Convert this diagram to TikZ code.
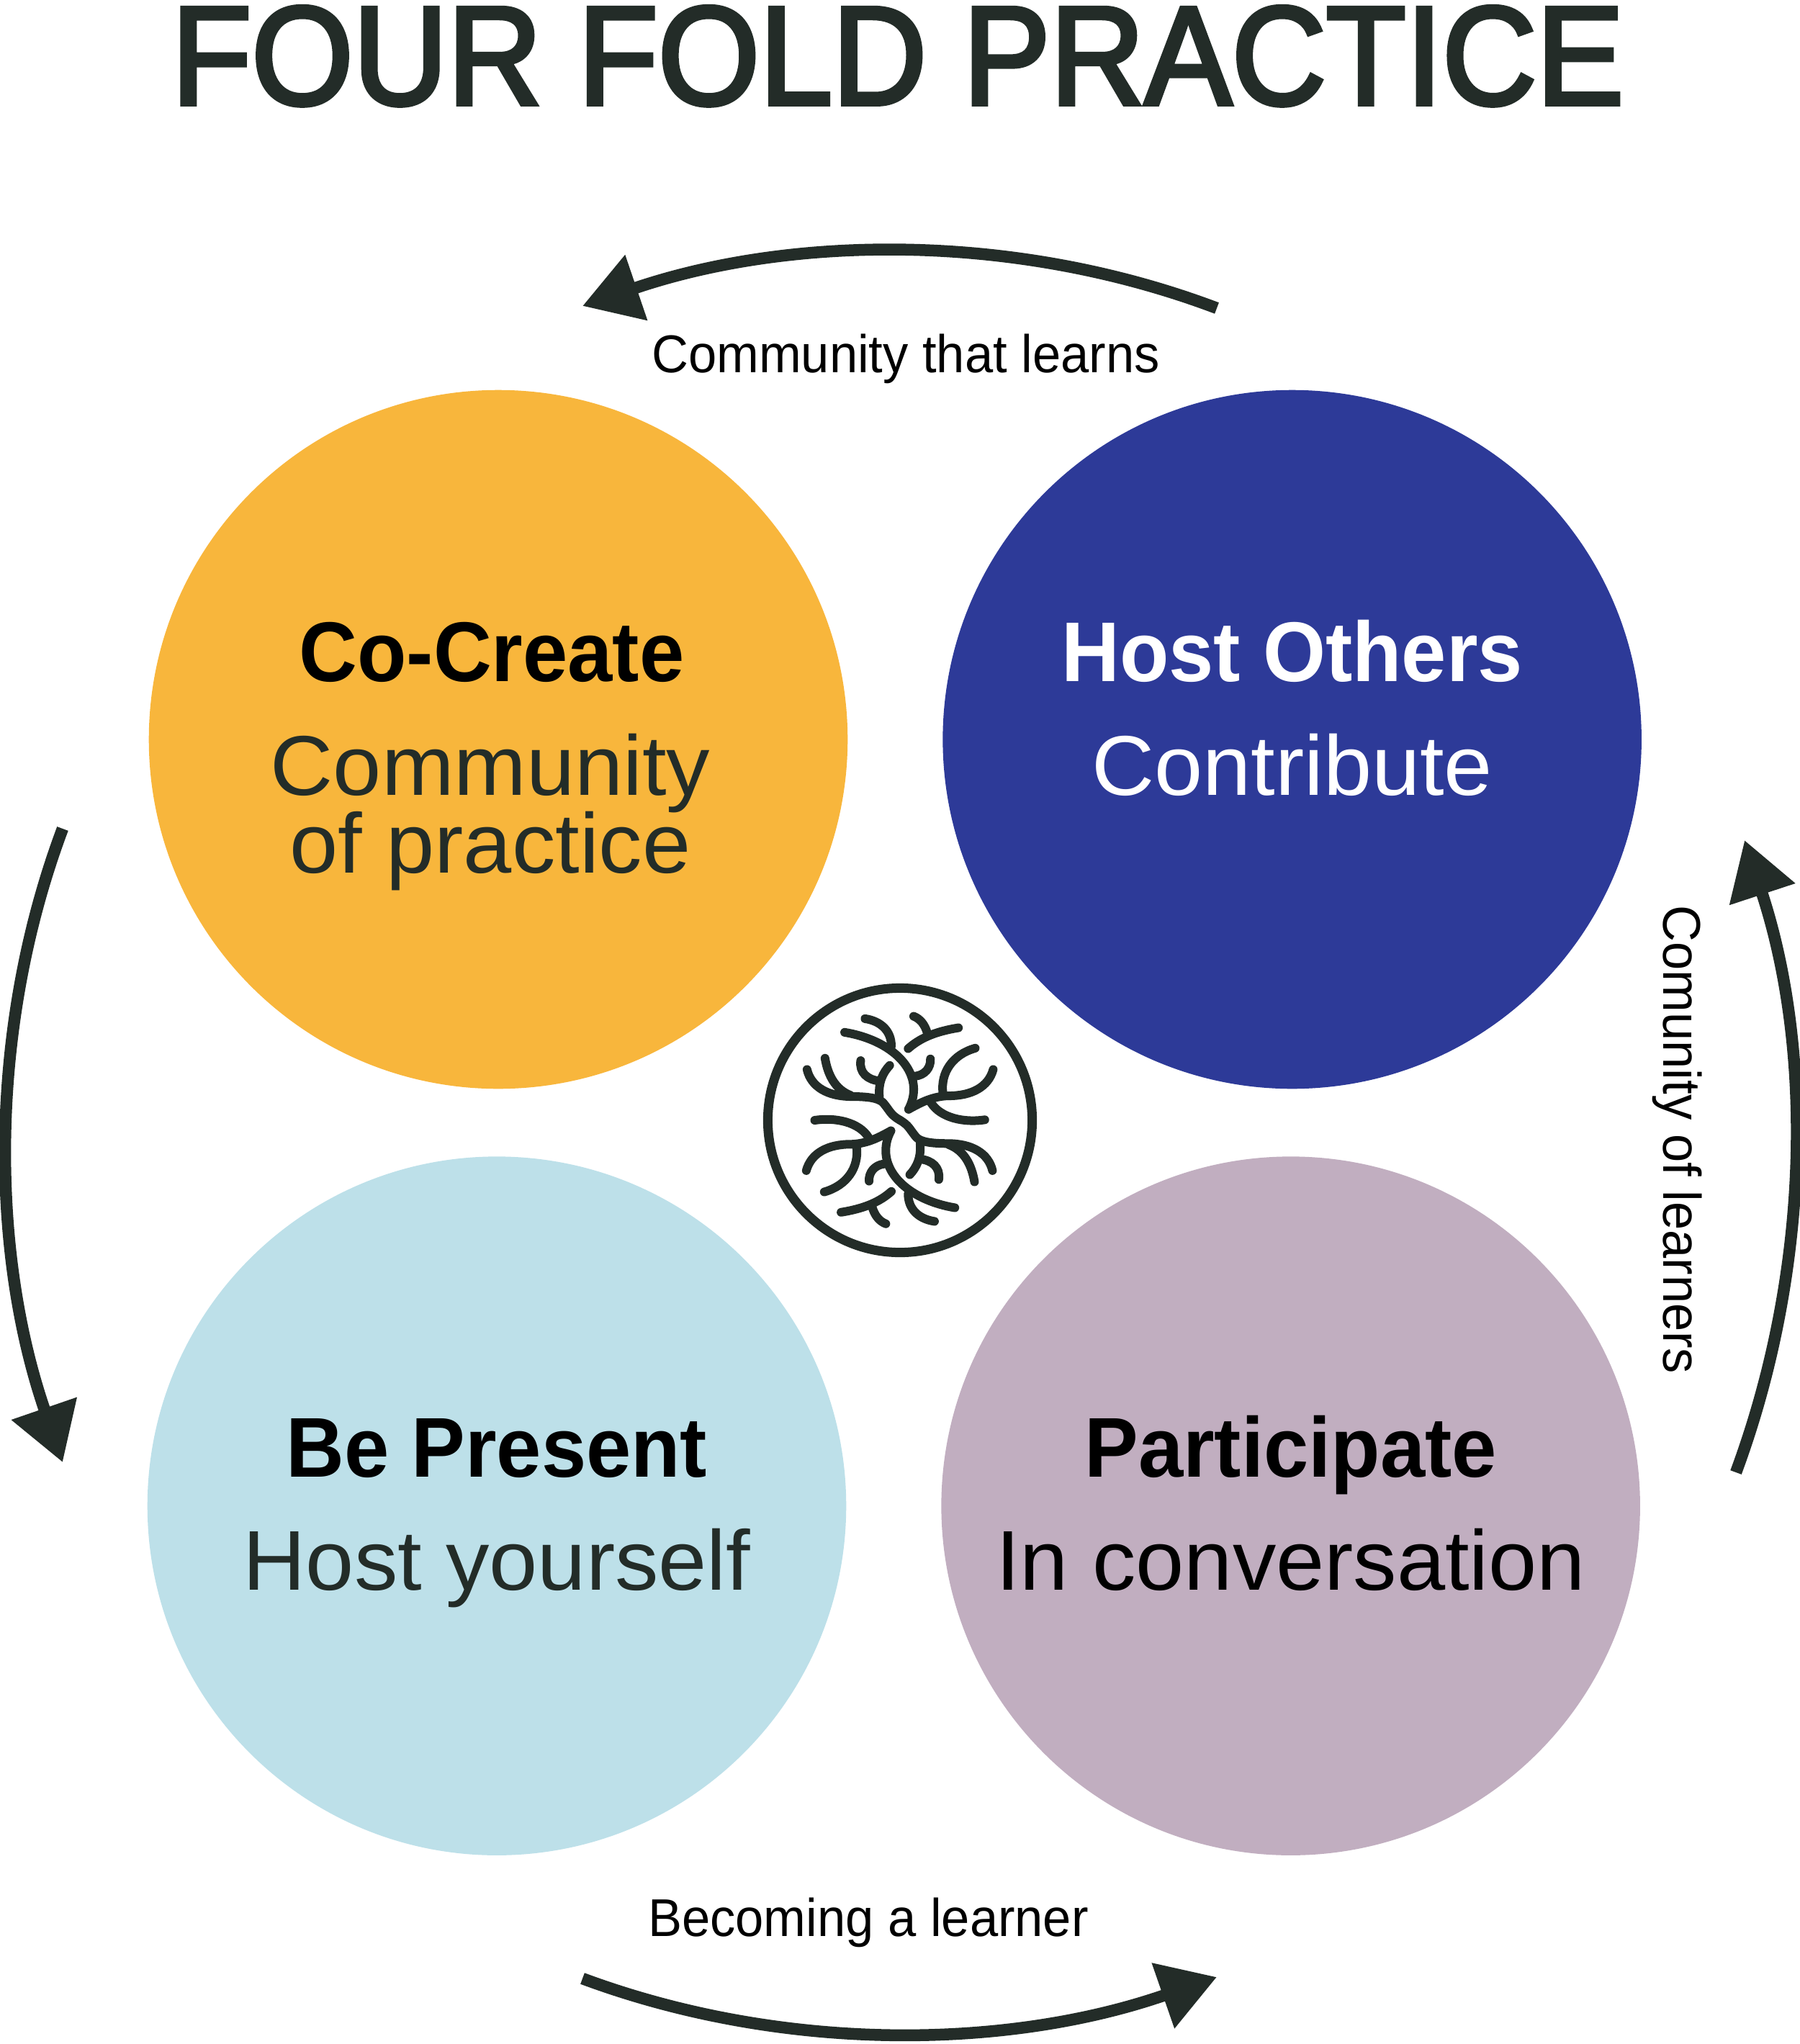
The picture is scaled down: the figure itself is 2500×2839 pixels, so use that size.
\documentclass[tikz,border=0pt]{standalone}
\usepackage{fontspec}
\setmainfont{Liberation Sans}
\newfontfamily\titlefont[FakeStretch=0.93,FakeBold=3]{Liberation Sans}
\newfontfamily\headfont[FakeStretch=0.95]{Liberation Sans}
\newfontfamily\subfont[FakeStretch=1.025]{Liberation Sans}
\newfontfamily\flowfont[FakeStretch=0.955]{Liberation Sans}
\usetikzlibrary{arrows.meta,positioning}
\definecolor{inkdark}{RGB}{35,44,40}
\definecolor{sunny}{RGB}{248,182,60}
\definecolor{deepblue}{RGB}{45,58,152}
\definecolor{paleblue}{RGB}{189,224,233}
\definecolor{mauve}{RGB}{193,174,192}

\begin{document}
\begin{tikzpicture}[
      x=0.01cm, y=-0.01cm,
      petal/.style={circle, minimum size=9.7cm, inner sep=0pt, outer sep=0pt},
      headtext/.style={anchor=base, inner sep=0pt, font=\fontsize{33.5}{40}\headfont\bfseries},
      subtext/.style={anchor=base, inner sep=0pt, text=inkdark,
                      font=\fontsize{33.5}{40}\subfont},
      flowtext/.style={inner sep=0pt, font=\fontsize{21}{25}\flowfont},
      flow/.style={draw=inkdark, line width=0.165cm,
                   -{Triangle[length=0.79cm, width=0.92cm, fill=inkdark]}},
      twig/.style={draw=inkdark, line width=0.12cm, line cap=round, line join=round},
      ring/.style={relative, out=-20.5, in=-161, out distance=3cm, in distance=3.05cm},
    ]
    \useasboundingbox (0,0) rectangle (2500,2839);

    % title
    \node[anchor=base, inner sep=0pt, text=inkdark, font=\fontsize{55.5}{60}\titlefont] (title)
      at (1247,145) {FOUR FOLD PRACTICE};

    % four circles
    \node[petal, fill=sunny] (cocreate) at (692,1027) {};
    \node[petal, fill=deepblue, right=1.32cm of cocreate] (host) {};
    \node[petal, fill=paleblue, below=0.94cm of cocreate, xshift=-0.02cm] (present) {};
    \node[petal, fill=mauve, right=1.32cm of present] (participate) {};

    % circle labels
    \node[headtext] (cocreatehead) at ([xshift=-0.09cm, yshift=0.80cm]cocreate.center) {Co-Create};
    \node[subtext] (cocreatesub) at ([xshift=-0.11cm, yshift=-0.77cm]cocreate.center) {Community};
    \node[subtext] (cocreatesubb) at ([xshift=-0.11cm, yshift=-1.85cm]cocreate.center) {of practice};
    \node[headtext, text=white] (hosthead) at ([yshift=0.80cm]host.center) {Host Others};
    \node[subtext, text=white] (hostsub) at ([yshift=-0.77cm]host.center) {Contribute};
    \node[headtext] (presenthead) at ([yshift=0.40cm]present.center) {Be Present};
    \node[subtext] (presentsub) at ([yshift=-1.17cm]present.center) {Host yourself};
    \node[headtext] (participatehead) at ([yshift=0.40cm]participate.center) {Participate};
    \node[subtext, text=black] (participatesub) at ([yshift=-1.17cm]participate.center) {In conversation};

    % arrow ends on the outer ring
    \coordinate (toptail) at (1690,428);
    \coordinate (toptip) at (809,425);
    \coordinate (lefttail) at (87,1151);
    \coordinate (lefttip) at (87,2031);
    \coordinate (bottomtail) at (809,2748);
    \coordinate (bottomtip) at (1690,2746);
    \coordinate (righttail) at (2411,2045);
    \coordinate (righttip) at (2423,1167);

    % arrows
    \draw[flow] (toptail) to[ring] (toptip);
    \draw[flow] (lefttail) to[ring] (lefttip);
    \draw[flow] (bottomtail) to[ring] (bottomtip);
    \draw[flow] (righttail) to[ring, out=-19.5] (righttip);

    % arrow labels
    \node[flowtext] (toplabel) at (1258,498) {Community that learns};
    \node[flowtext] (bottomlabel) at (1206,2670) {Becoming a learner};
    \node[flowtext, rotate=-90] (rightlabel) at (2330,1583) {Comunity of learners};

    % tree emblem
    \node[circle, draw=inkdark, line width=0.13cm, minimum size=3.67cm, inner sep=0pt] (emblem) at (1250,1556) {};
    \begin{scope}[shift={(1030,1340)}, x=0.00333cm, y=-0.00333cm]
      \foreach \turn in {0,180} {
        \begin{scope}[rotate around={\turn:(660,648)}]
          \draw[twig] (430,282) .. controls (600,310) and (725,410) .. (718,530) .. controls (716,560) and (708,580) .. (697,603);
          \draw[twig] (697,603) .. controls (740,580) and (790,550) .. (860,547) .. controls (960,548) and (1030,510) .. (1050,437);
          \draw[twig] (840,535) .. controls (830,450) and (880,375) .. (975,348);
          \draw[twig] (790,575) .. controls (830,640) and (930,660) .. (1015,647);
          \draw[twig] (725,465) .. controls (765,460) and (790,430) .. (788,393);
          \draw[twig] (695,350) .. controls (740,310) and (800,280) .. (905,263);
          \draw[twig] (775,285) .. controls (765,250) and (745,225) .. (718,215);
          \draw[twig] (515,225) .. controls (580,235) and (625,275) .. (625,340);
          \draw[twig] (660,648) .. controls (620,625) and (620,610) .. (590,575) .. controls (570,555) and (520,550) .. (460,550) .. controls (360,550) and (290,510) .. (273,437);
          \draw[twig] (348,390) .. controls (360,460) and (390,520) .. (455,545);
          \draw[twig] (575,550) .. controls (570,490) and (590,450) .. (618,420);
          \draw[twig] (497,400) .. controls (490,450) and (525,480) .. (575,485);
        \end{scope}
      }
    \end{scope}
  \end{tikzpicture}
\end{document}
